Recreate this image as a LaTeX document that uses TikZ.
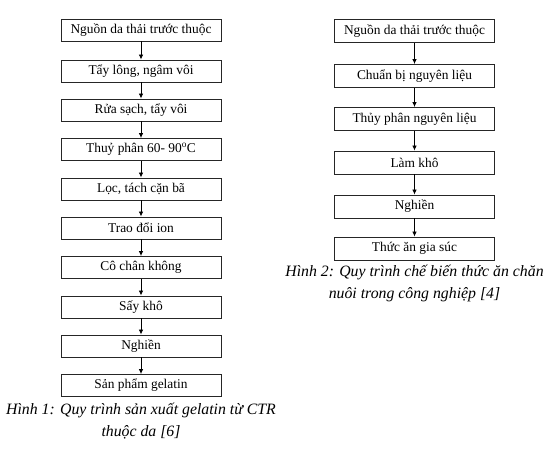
\documentclass[tikz,border=0pt]{standalone}
\usepackage{fontspec}
\setmainfont{Liberation Serif}
\usetikzlibrary{arrows.meta}

\begin{document}
\begin{tikzpicture}[x=1pt, y=-1pt,
    buoc/.style={draw=black!85, line width=0.9pt, minimum width=160pt, minimum height=22pt, inner sep=0pt, font={\fontsize{13.4}{15}\selectfont}},
    muiten/.style={-{Latex[length=5pt,width=4.5pt]}, line width=0.8pt},
    chuthich/.style={align=center, font={\fontsize{15.8}{22}\selectfont\itshape}}]
    \useasboundingbox (0,0) rectangle (557,450);

    % Hinh 1
    \node[buoc] (a1) at (141, 30) {Nguồn da thải trước thuộc};
    \node[buoc] (a2) at (141, 71) {Tẩy lông, ngâm vôi};
    \node[buoc] (a3) at (141, 110) {Rửa sạch, tẩy vôi};
    \node[buoc] (a4) at (141, 149.5) {Thuỷ phân 60- 90\textsuperscript{o}C};
    \node[buoc] (a5) at (141, 189) {Lọc, tách cặn bã};
    \node[buoc] (a6) at (141, 228) {Trao đổi ion};
    \node[buoc] (a7) at (141, 267.5) {Cô chân không};
    \node[buoc] (a8) at (141, 307) {Sấy khô};
    \node[buoc] (a9) at (141, 346) {Nghiền};
    \node[buoc] (a10) at (141, 385.5) {Sản phẩm gelatin};
    \draw[muiten] (a1) -- (a2);
    \draw[muiten] (a2) -- (a3);
    \draw[muiten] (a3) -- (a4);
    \draw[muiten] (a4) -- (a5);
    \draw[muiten] (a5) -- (a6);
    \draw[muiten] (a6) -- (a7);
    \draw[muiten] (a7) -- (a8);
    \draw[muiten] (a8) -- (a9);
    \draw[muiten] (a9) -- (a10);
    \node[chuthich] (h1) at (141, 421) {Hình 1: Quy trình sản xuất gelatin từ CTR\\thuộc da [6]};

    % Hinh 2
    \node[buoc, minimum height=23pt] (b1) at (414.5, 31) {Nguồn da thải trước thuộc};
    \node[buoc, minimum height=23pt] (b2) at (414.5, 76) {Chuẩn bị nguyên liệu};
    \node[buoc, minimum height=23pt] (b3) at (414.5, 119) {Thủy phân nguyên liệu};
    \node[buoc, minimum height=23pt] (b4) at (414.5, 162.5) {Làm khô};
    \node[buoc, minimum height=23pt] (b5) at (414.5, 206.5) {Nghiền};
    \node[buoc, minimum height=23pt] (b6) at (414.5, 248.5) {Thức ăn gia súc};
    \draw[muiten] (b1) -- (b2);
    \draw[muiten] (b2) -- (b3);
    \draw[muiten] (b3) -- (b4);
    \draw[muiten] (b4) -- (b5);
    \draw[muiten] (b5) -- (b6);
    \node[chuthich] (h2) at (414.5, 283.5) {Hình 2: Quy trình chế biến thức ăn chăn\\nuôi trong công nghiệp [4]};
\end{tikzpicture}
\end{document}
